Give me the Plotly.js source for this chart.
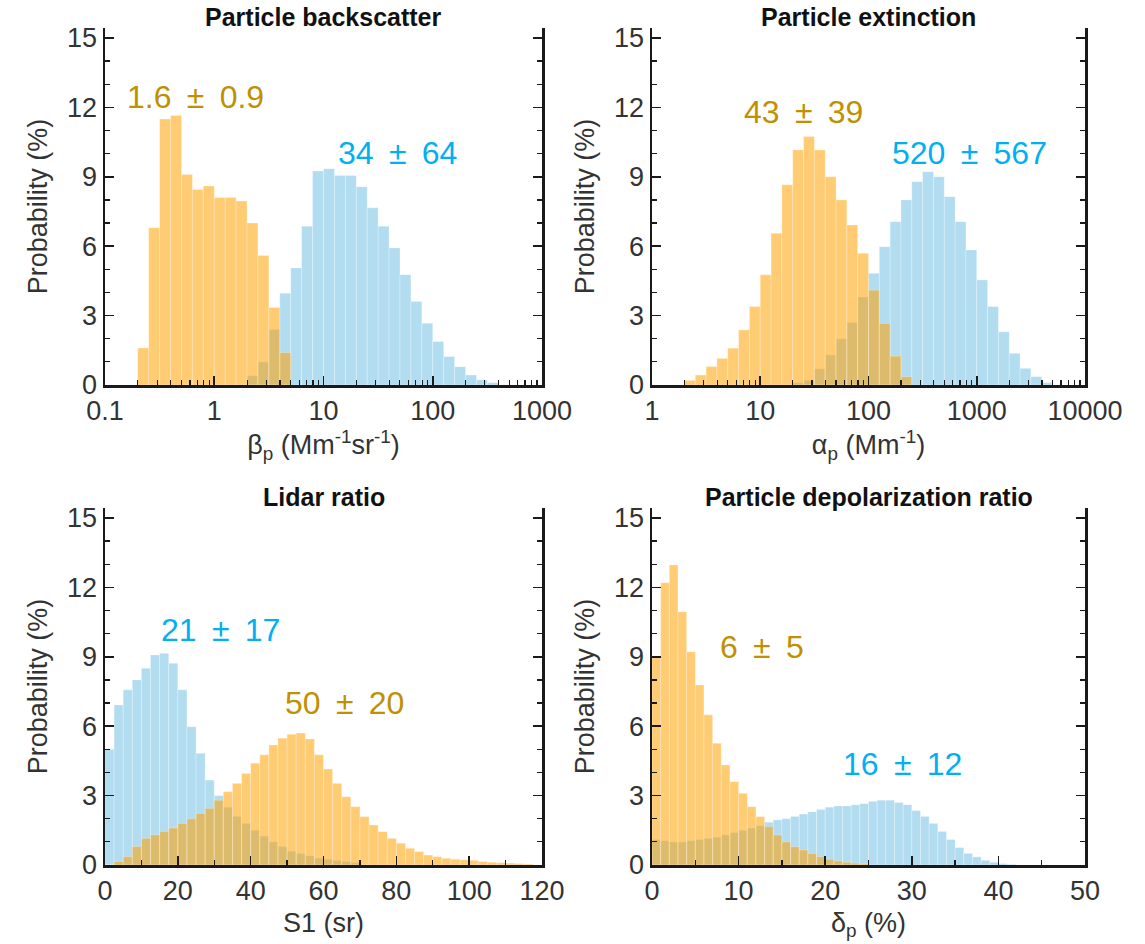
<!DOCTYPE html>
<html><head><meta charset="utf-8">
<script src="https://cdn.plot.ly/plotly-3.0.1.min.js"></script>
<style>
html,body{margin:0;padding:0;background:#fff;}
#chart{width:1145px;height:944px;}
</style></head><body><div id="chart"></div>
<script>
// ---------- DATA (probability %) ----------
// Panel 1: particle backscatter, bins in log10(Mm-1 sr-1)
const betaBinWidth = 0.1;
const betaOrangeStart = -0.7;
const betaOrange = [1.6, 6.8, 11.5, 11.65, 9.1, 8.45, 8.6, 8.1, 8.1, 7.95, 7.0, 5.6, 3.35, 1.4];
const betaBlueStart = 0.3;
const betaBlue = [0.4, 1.0, 2.4, 3.97, 5.06, 6.86, 9.25, 9.35, 9.06, 9.06, 8.57, 7.66, 6.86, 5.92, 4.77, 3.61, 2.67, 1.88, 1.23, 0.79, 0.43, 0.22, 0.1];
const betaTickExp = [-1, 0, 1, 2, 3];
const betaTickText = ['0.1', '1', '10', '100', '1000'];

// Panel 2: particle extinction, bins in log10(Mm-1)
const alphaBinWidth = 0.1;
const alphaOrangeStart = 0.3;
const alphaOrange = [0.2, 0.43, 0.8, 1.15, 1.59, 2.38, 3.39, 4.76, 6.56, 8.65, 10.16, 10.74, 10.16, 9.0, 8.0, 6.92, 5.69, 4.1, 2.66, 1.25, 0.36];
const alphaBlueStart = 1.3;
const alphaBlue = [0.1, 0.2, 0.7, 1.3, 2.0, 2.7, 3.8, 4.83, 5.98, 7.06, 8.0, 8.79, 9.22, 9.0, 8.14, 7.06, 5.84, 4.54, 3.39, 2.3, 1.37, 0.72, 0.36, 0.1];
const alphaTickExp = [0, 1, 2, 3, 4];
const alphaTickText = ['1', '10', '100', '1000', '10000'];

// Panel 3: lidar ratio S1 (sr)
const lrBinWidth = 2.5;
const lrOrangeStart = 0;
const lrOrange = [0, 0.15, 0.36, 0.8, 1.15, 1.3, 1.45, 1.6, 1.8, 2.0,
  2.23, 2.45, 2.8, 3.17, 3.53, 3.96, 4.4, 4.76, 5.19, 5.48,
  5.65, 5.7, 5.45, 4.76, 4.15, 3.53, 2.95, 2.52, 2.09, 1.73,
  1.44, 1.15, 0.94, 0.72, 0.58, 0.43, 0.36, 0.29, 0.25, 0.22,
  0.2, 0.15, 0.12, 0.1, 0.08, 0.06, 0.04];
const lrBlueStart = 0;
const lrBlue = [5.0, 6.92, 7.57, 8.0, 8.5, 9.08, 9.15, 8.72, 7.57, 5.98,
  4.83, 3.67, 3.0, 2.5, 2.1, 1.8, 1.5, 1.25, 1.0, 0.8,
  0.6, 0.5, 0.4, 0.3, 0.25, 0.2, 0.15, 0.1];

// Panel 4: particle depolarization ratio (%)
const dpBinWidth = 1;
const dpOrangeStart = 0;
const dpOrange = [9.0, 12.2, 12.97, 10.95, 9.22, 7.78, 6.49, 5.26, 4.32, 3.6,
  3.1, 2.52, 2.09, 1.66, 1.3, 1.0, 0.79, 0.65, 0.5, 0.36,
  0.25, 0.18, 0.12, 0.08, 0.05];
const dpBlueStart = 0;
const dpBlue = [1.1, 1.05, 1.0, 1.0, 1.05, 1.1, 1.15, 1.2, 1.3, 1.4,
  1.5, 1.6, 1.7, 1.85, 1.95, 2.0, 2.1, 2.2, 2.3, 2.4,
  2.5, 2.55, 2.55, 2.6, 2.65, 2.75, 2.8, 2.8, 2.7, 2.6,
  2.35, 2.1, 1.8, 1.45, 1.1, 0.75, 0.5, 0.35, 0.2, 0.12,
  0.06, 0.03];

// Labels
const panelTitles = ['Particle backscatter', 'Particle extinction', 'Lidar ratio', 'Particle depolarization ratio'];
const xTitles = ['\u03b2<sub>p</sub> (Mm<sup>-1</sup>sr<sup>-1</sup>)', '\u03b1<sub>p</sub> (Mm<sup>-1</sup>)', 'S1 (sr)', '\u03b4<sub>p</sub> (%)'];
const yTitle = 'Probability (%)';
// mean ± std labels: [text, x (axis units), y (%), colour key, panel]
const statLabels = [
  ['1.6\u2009 \u00b1 \u20090.9', -0.17, 12.45, 'o', 1],
  ['34\u2009 \u00b1 \u200964', 1.68, 10.03, 'b', 1],
  ['43\u2009 \u00b1 \u200939', 1.40, 11.8, 'o', 2],
  ['520\u2009 \u00b1 \u2009567', 2.93, 10.03, 'b', 2],
  ['21\u2009 \u00b1 \u200917', 31.6, 10.16, 'b', 3],
  ['50\u2009 \u00b1 \u200920', 65.9, 7.0, 'o', 3],
  ['6\u2009 \u00b1 \u20095', 12.7, 9.42, 'o', 4],
  ['16\u2009 \u00b1 \u200912', 28.9, 4.37, 'b', 4]
];

// ---------- STYLE ----------
const FONT = 'Liberation Sans, Arial, Helvetica, sans-serif';
const ORANGE = 'rgba(255,162,0,0.55)';
const BLUE = 'rgb(178,220,240)';
const TXT_O = '#BF9000';
const TXT_B = '#00B0F0';

function bars(start, width, vals, color, n) {
  return {
    type: 'bar',
    x: vals.map((_, i) => start + (i + 0.5) * width),
    y: vals,
    width: width,
    marker: {color: color, line: {width: 0.6, color: 'rgba(255,255,255,0.45)'}},
    xaxis: 'x' + (n === 1 ? '' : n), yaxis: 'y' + (n === 1 ? '' : n),
    hoverinfo: 'skip', showlegend: false
  };
}

const data = [
  bars(betaBlueStart, betaBinWidth, betaBlue, BLUE, 1),
  bars(betaOrangeStart, betaBinWidth, betaOrange, ORANGE, 1),
  bars(alphaBlueStart, alphaBinWidth, alphaBlue, BLUE, 2),
  bars(alphaOrangeStart, alphaBinWidth, alphaOrange, ORANGE, 2),
  bars(lrBlueStart, lrBinWidth, lrBlue, BLUE, 3),
  bars(lrOrangeStart, lrBinWidth, lrOrange, ORANGE, 3),
  bars(dpBlueStart, dpBinWidth, dpBlue, BLUE, 4),
  bars(dpOrangeStart, dpBinWidth, dpOrange, ORANGE, 4)
];

const W = 1145, H = 944;
const colX = [[105 / W, 542 / W], [652 / W, 1085 / W]];
const rowY = [[1 - 385 / H, 1 - 28 / H], [1 - 865 / H, 1 - 508 / H]];
const YTOP = 15.43;

const base = {
  showline: true, linewidth: 2.5, linecolor: '#1a1a1a',
  ticks: 'inside', ticklen: 9, tickwidth: 1.6, tickcolor: '#1a1a1a',
  showgrid: false, zeroline: false, fixedrange: true,
  tickfont: {family: FONT, size: 27, color: '#333'}
};
const minorBase = {ticks: 'inside', ticklen: 5, tickwidth: 1.2, tickcolor: '#1a1a1a', showgrid: false};

function logMinor(lo, hi) {
  const v = [];
  for (let k = lo; k < hi; k++) for (let m = 2; m <= 9; m++) v.push(k + Math.log10(m));
  return v;
}
function xLog(dom, anchor, exps, labels, title) {
  return Object.assign({}, base, {
    domain: dom, anchor: anchor, range: [exps[0], exps[exps.length - 1]],
    tickmode: 'array', tickvals: exps, ticktext: labels,
    minor: Object.assign({}, minorBase, {tickmode: 'array', tickvals: logMinor(exps[0], exps[exps.length - 1])}),
    title: {text: title, font: {family: FONT, size: 27, color: '#333'}, standoff: 8}
  });
}
function xLin(dom, anchor, rng, dt, mdt, title) {
  return Object.assign({}, base, {
    domain: dom, anchor: anchor, range: rng, tick0: 0, dtick: dt,
    minor: Object.assign({}, minorBase, {tick0: 0, dtick: mdt}),
    title: {text: title, font: {family: FONT, size: 27, color: '#333'}, standoff: 8}
  });
}
function yAx(dom, anchor) {
  return Object.assign({}, base, {
    domain: dom, anchor: anchor, range: [0, YTOP], tick0: 0, dtick: 3, mirror: 'ticks',
    minor: Object.assign({}, minorBase, {tick0: 0, dtick: 1}),
    title: {text: yTitle, font: {family: FONT, size: 27, color: '#333'}, standoff: 12}
  });
}

const annotations = [];
const axSuffix = ['', '2', '3', '4'];
panelTitles.forEach((t, i) => {
  annotations.push({
    text: '<b>' + t + '</b>', xref: 'x' + axSuffix[i] + ' domain', yref: 'y' + axSuffix[i] + ' domain',
    x: 0.5, y: 1.03, xanchor: 'center', yanchor: 'middle', showarrow: false,
    font: {family: FONT, size: 25, color: '#111'}
  });
});
statLabels.forEach(s => {
  annotations.push({
    text: s[0], xref: 'x' + axSuffix[s[4] - 1], yref: 'y' + axSuffix[s[4] - 1],
    x: s[1], y: s[2], xanchor: 'center', yanchor: 'middle', showarrow: false,
    font: {family: FONT, size: 32, color: s[3] === 'o' ? TXT_O : TXT_B}
  });
});

const layout = {
  width: W, height: H,
  margin: {l: 0, r: 0, t: 0, b: 0},
  paper_bgcolor: '#fff', plot_bgcolor: 'rgba(0,0,0,0)',
  barmode: 'overlay', bargap: 0,
  showlegend: false,
  font: {family: FONT, color: '#333'},
  xaxis: xLog(colX[0], 'y', betaTickExp, betaTickText, xTitles[0]),
  yaxis: yAx(rowY[0], 'x'),
  xaxis2: xLog(colX[1], 'y2', alphaTickExp, alphaTickText, xTitles[1]),
  yaxis2: yAx(rowY[0], 'x2'),
  xaxis3: xLin(colX[0], 'y3', [0, 120], 20, 10, xTitles[2]),
  yaxis3: yAx(rowY[1], 'x3'),
  xaxis4: xLin(colX[1], 'y4', [0, 50], 10, 5, xTitles[3]),
  yaxis4: yAx(rowY[1], 'x4'),
  annotations: annotations
};

Plotly.newPlot('chart', data, layout, {displayModeBar: false, staticPlot: true});
</script></body></html>
